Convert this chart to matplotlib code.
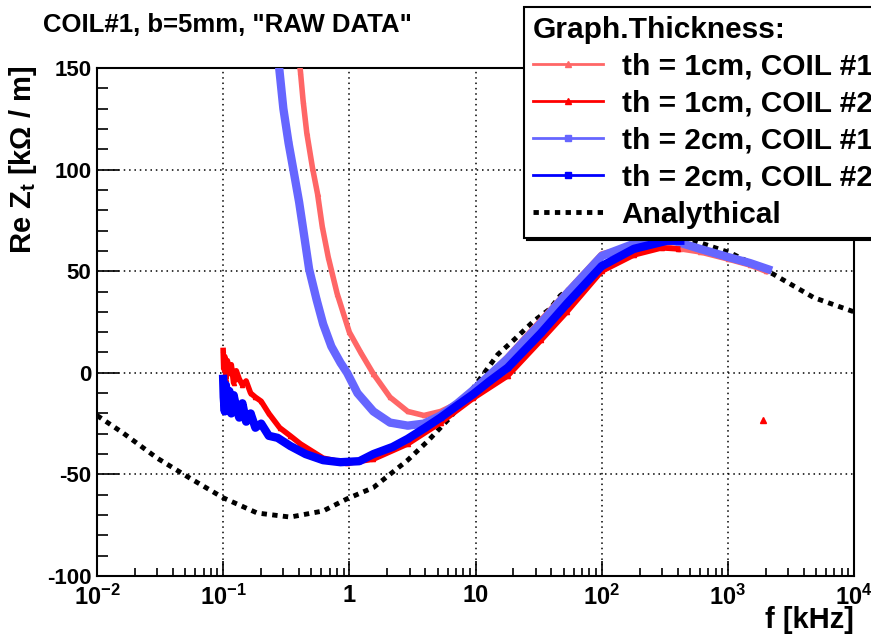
import matplotlib
matplotlib.use("Agg")
import matplotlib.pyplot as plt
from matplotlib.lines import Line2D
from matplotlib.ticker import FixedLocator, FixedFormatter, LogLocator, NullFormatter, MultipleLocator

plt.rcParams["font.family"] = ["Liberation Sans", "DejaVu Sans"]
plt.rcParams["font.weight"] = "bold"
plt.rcParams["axes.unicode_minus"] = False
plt.rcParams["mathtext.fontset"] = "custom"
plt.rcParams["mathtext.rm"] = "Liberation Sans:bold"
plt.rcParams["mathtext.it"] = "Liberation Sans:bold"
plt.rcParams["mathtext.bf"] = "Liberation Sans:bold"

# --- data (f in kHz, Re Zt in kOhm/m) ---
ana_f = [0.01, 0.016, 0.03, 0.055, 0.1, 0.186, 0.34, 0.62, 0.96, 1.55, 2.9, 4.2,
         6.3, 9.6, 15, 20, 29, 39, 47, 100, 200, 350, 540, 1050, 2300, 4800, 10000]
ana_v = [-21, -29.5, -42, -52, -61.5, -69, -71, -68, -62, -56.5, -43, -33.5,
         -22, -7.5, 9, 16, 25.5, 31.5, 38, 53, 62, 66, 65, 59, 48.5, 37, 30]

# th = 1cm, COIL #1
r1_f = [0.39, 0.41, 0.43, 0.46, 0.51, 0.56, 0.61, 0.68, 0.80, 1.0, 1.23, 1.55,
        2.1, 2.9, 3.9, 5.3, 7.2, 9.6, 13, 18, 33, 53, 100, 180, 300, 420, 600,
        1000, 1500, 2000]
r1_v = [160, 148, 134, 118, 101, 88, 72, 57, 39, 20, 10, -0.5,
        -12, -19, -21, -19, -15, -9, -1, 8, 26, 40, 58.5, 62.5, 62, 61, 59.5,
        56, 53, 50]

# th = 1cm, COIL #2
r2_f = [0.100, 0.101, 0.103, 0.105, 0.108, 0.112, 0.116, 0.121, 0.127, 0.134,
        0.142, 0.152, 0.165, 0.18, 0.2, 0.23, 0.28, 0.34, 0.41, 0.62, 0.96,
        1.55, 2.9, 5.3, 9.6, 18, 33, 53, 100, 180, 300, 400]
r2_v = [11, 2, 8, -3, 6, 0, 4, -5, 1, -3,
        -6, -4, -10, -12, -14, -20, -27, -31, -35, -42, -44.5,
        -42.5, -35, -24.5, -12.5, -1.5, 16, 30, 50, 58, 61.5, 61]
r2_out_f = [1900]
r2_out_v = [-23]

# th = 2cm, COIL #1
b1_f = [0.26, 0.278, 0.30, 0.33, 0.36, 0.40, 0.43, 0.48, 0.55, 0.62, 0.72, 0.85,
        0.96, 1.16, 1.55, 2.1, 2.9, 3.9, 5.3, 7.2, 9.6, 13, 18, 33, 53, 100,
        180, 370, 600, 1000, 1500, 2080]
b1_v = [165, 150, 130, 113, 100, 84, 71, 51, 36, 24, 13, 5,
        0, -10, -19, -24.5, -26, -25, -21, -15, -8.5, -1, 7, 24.5, 39, 57.5,
        63.5, 65, 61, 57, 54, 51]

# th = 2cm, COIL #2
b2_f = [0.100, 0.101, 0.103, 0.105, 0.108, 0.112, 0.116, 0.121, 0.127, 0.134,
        0.142, 0.152, 0.165, 0.18, 0.2, 0.23, 0.27, 0.34, 0.45, 0.62, 0.85, 1.2,
        1.55, 2.2, 2.9, 4.0, 5.3, 7.2, 9.6, 13, 18, 33, 53, 100, 180, 330, 420]
b2_v = [-3, -12, -19, -6, -14, -9, -20, -11, -17, -22,
        -15, -24, -20, -27, -25, -31, -32, -36, -40, -43, -44, -43.5,
        -40, -36.5, -32.5, -27, -22, -16, -10.5, -4, 2.5, 19.5, 34, 52.5, 61, 65, 65]

xticks = [0.01, 0.1, 1, 10, 100, 1000, 10000]
xlabels = [r"$10^{-2}$", r"$10^{-1}$", "1", "10", r"$10^{2}$", r"$10^{3}$", r"$10^{4}$"]

c_r1, c_r2, c_b1, c_b2 = "#ff6666", "#ff0000", "#6666ff", "#0000ff"

fig = plt.figure(figsize=(8.71, 6.36), dpi=100)
ax = fig.add_axes([97 / 871, 60 / 636, 757 / 871, 508 / 636])

ax.plot(ana_f, ana_v, color="black", lw=3.5, ls=(0, (1.1, 1.1)), zorder=2)
ax.plot(r1_f, r1_v, color=c_r1, lw=4, marker="^", ms=3, zorder=3)
ax.plot(b1_f, b1_v, color=c_b1, lw=6, marker="s", ms=3, zorder=4)
ax.plot(r2_f, r2_v, color=c_r2, lw=4, marker="^", ms=3, zorder=5)
ax.plot(r2_out_f, r2_out_v, ls="none", color=c_r2, marker="^", ms=5, zorder=5)
ax.plot(b2_f, b2_v, color=c_b2, lw=6, marker="s", ms=3, zorder=6)

ax.set_xscale("log")
ax.set_xlim(0.01, 10000)
ax.set_ylim(-100, 150)
ax.xaxis.set_major_locator(FixedLocator(xticks))
ax.xaxis.set_major_formatter(FixedFormatter(xlabels))
ax.xaxis.set_minor_locator(LogLocator(base=10, subs=range(2, 10), numticks=20))
ax.xaxis.set_minor_formatter(NullFormatter())
ax.yaxis.set_major_locator(MultipleLocator(50))
ax.yaxis.set_minor_locator(MultipleLocator(10))

ax.tick_params(axis="both", which="both", direction="in", top=False, right=False,
               width=1.2, labelsize=16)
ax.tick_params(axis="x", which="major", length=11, pad=6, labelsize=17)
ax.tick_params(axis="x", which="minor", length=6)
ax.tick_params(axis="y", which="major", length=16, pad=4)
ax.tick_params(axis="y", which="minor", length=8)
for lab in ax.get_xticklabels() + ax.get_yticklabels():
    lab.set_fontweight("bold")

ax.grid(True, which="major", color="black", ls=(0, (1, 2.5)), lw=1.1)
for sp in ax.spines.values():
    sp.set_linewidth(1.5)

fig.text(43 / 871, 1 - 25 / 636, 'COIL#1, b=5mm, "RAW DATA"', fontsize=18.5,
         fontweight="bold", ha="left", va="center")
fig.text(23 / 871, 1 - 66 / 636, r"Re Z$_{t}$ [k$\Omega$ / m]", fontsize=21,
         fontweight="bold", rotation=90, ha="center", va="top")
fig.text(854 / 871, 1 - 620 / 636, "f [kHz]", fontsize=21, fontweight="bold",
         ha="right", va="center")

handles = [
    Line2D([], [], color=c_r1, lw=2, marker="^", ms=4),
    Line2D([], [], color=c_r2, lw=2, marker="^", ms=4),
    Line2D([], [], color=c_b1, lw=2, marker="s", ms=4),
    Line2D([], [], color=c_b2, lw=2, marker="s", ms=4),
    Line2D([], [], color="black", lw=3.5, ls=(0, (1.1, 1.1))),
]
labels = ["th = 1cm, COIL #1", "th = 1cm, COIL #2", "th = 2cm, COIL #1",
          "th = 2cm, COIL #2", "Analythical"]
leg = fig.legend(handles, labels, loc="upper left",
                 bbox_to_anchor=(524 / 871, 1 - 7 / 636),
                 bbox_transform=fig.transFigure,
                 title="Graph.Thickness:", alignment="left",
                 prop={"size": 21.5, "weight": "bold"},
                 title_fontproperties={"size": 21.5, "weight": "bold"},
                 fancybox=False, framealpha=1, edgecolor="black",
                 shadow={"color": "black", "alpha": 1},
                 borderpad=0.3, labelspacing=0.3, handlelength=2.35,
                 handletextpad=0.62, borderaxespad=0)
leg.get_frame().set_linewidth(1.5)

fig.savefig("out.png", dpi=100)
